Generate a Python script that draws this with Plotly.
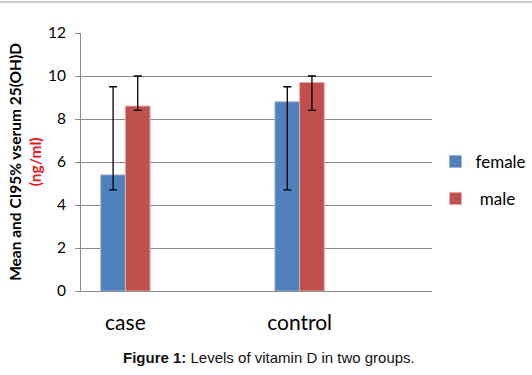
import plotly.graph_objects as go

groups = ["case", "control"]
female_mean = [5.4, 8.8]
female_upper = [9.5, 9.5]
female_lower = [4.7, 4.7]
male_mean = [8.6, 9.7]
male_upper = [10.0, 10.0]
male_lower = [8.4, 8.4]
yticks = [0, 2, 4, 6, 8, 10, 12]

xpos = [i * 2 for i in range(len(groups))]
bw = 0.283

def err(mean, up, lo):
    return dict(type="data", symmetric=False,
                array=[u - m for u, m in zip(up, mean)],
                arrayminus=[m - l for m, l in zip(mean, lo)],
                color="black", thickness=1.3, width=4)

fig = go.Figure()
fig.add_trace(go.Bar(x=xpos, y=female_mean, width=bw, offset=-bw, name="female",
                     legendgroup="f",
                     marker=dict(color="#4F81BD", line=dict(color="#9BB5DA", width=1)),
                     error_y=err(female_mean, female_upper, female_lower)))
fig.add_trace(go.Bar(x=xpos, y=male_mean, width=bw, offset=0, name="\u00a0male",
                     legendgroup="m",
                     marker=dict(color="#C0504D", line=dict(color="#E2A9A8", width=1)),
                     error_y=err(male_mean, male_upper, male_lower)))

fig.update_layout(
    width=532, height=375,
    margin=dict(l=81, r=100, t=33, b=84, autoexpand=False),
    paper_bgcolor="white", plot_bgcolor="white",
    barmode="overlay",
    font=dict(family="Lato, Open Sans, sans-serif", color="black"),
    showlegend=True,
    legend=dict(x=1.01, y=0.57, xanchor="left", yanchor="top",
                font=dict(size=17, family="Lato"), tracegroupgap=12,
                bgcolor="rgba(0,0,0,0)"),
    xaxis=dict(range=[-0.51, 3.52], tickvals=xpos, ticktext=groups,
               tickfont=dict(size=21, family="Lato"), showgrid=False,
               showline=True, linecolor="#8c8c8c", linewidth=1, ticks="",
               ticklabelstandoff=13, zeroline=False, automargin=False),
    yaxis=dict(range=[0, 12], tickvals=yticks, showgrid=True, gridcolor="#8c8c8c",
               gridwidth=1, showline=True, linecolor="#8c8c8c", linewidth=1,
               ticks="outside", ticklen=5, tickcolor="#8c8c8c",
               tickfont=dict(size=15.5, family="Lato"), ticklabelstandoff=6,
               zeroline=False, automargin=False),
)

fig.add_annotation(
    xref="paper", yref="paper", x=-0.16, y=0.5, xanchor="center", yanchor="middle",
    textangle=-90, showarrow=False,
    text="<b>Mean and CI95% vserum 25(OH)D</b><br><b><span style='color:#e8141b'>(ng/ml)</span></b>",
    font=dict(size=15.5, family="Lato", color="black"),
)
fig.add_annotation(
    xref="paper", yref="paper", x=0.535, y=-0.256, xanchor="center", yanchor="middle",
    showarrow=False,
    text="<b>Figure 1:</b> Levels of vitamin D in two groups.",
    font=dict(size=15, family="Liberation Sans, Arial", color="#111"),
)
fig.add_shape(type="line", xref="paper", yref="paper", x0=-0.3, x1=1.3,
              y0=1 + 31 / 258, y1=1 + 31 / 258, line=dict(color="#bbbbbb", width=1.5))

fig.write_html("out.html", config={"displayModeBar": False},
               post_script="document.body.style.margin='0';")
